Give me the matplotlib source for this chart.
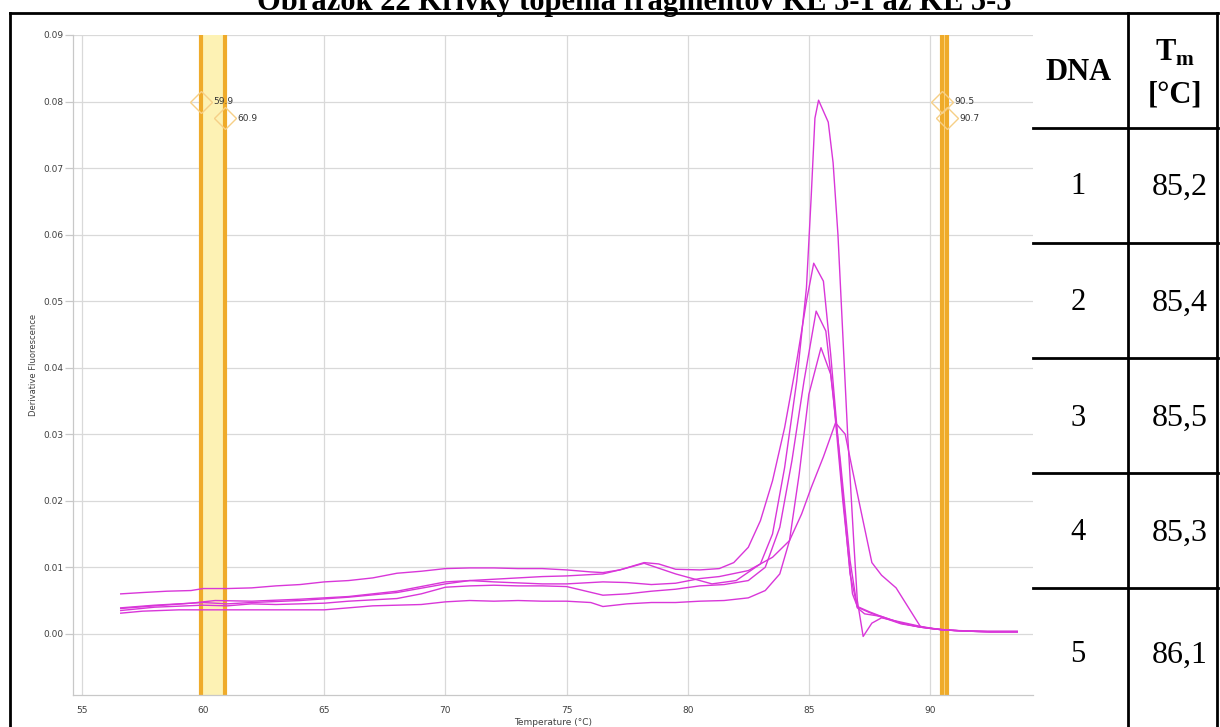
import matplotlib
matplotlib.use("Agg")
import matplotlib.pyplot as plt
from matplotlib.lines import Line2D

plt.rcParams['font.family'] = ['DejaVu Sans']
plt.rcParams['mathtext.fontset'] = 'custom'
plt.rcParams['mathtext.rm'] = 'Liberation Serif'
plt.rcParams['mathtext.bf'] = 'Liberation Serif:bold'

# melt curve samples: temperature (°C) and derivative fluorescence
temp_1 = [56.6, 57.5, 58.5, 59.5, 60.0, 61.0, 62.0, 63.0, 64.0, 65.0, 66.0, 67.0, 68.0, 69.0,
          70.0, 71.0, 72.0, 73.0, 74.0, 75.0, 76.0, 76.5, 77.2, 78.2, 78.8, 79.5, 80.5, 81.3,
          81.9, 82.5, 83.0, 83.5, 84.0, 84.5, 84.9, 85.2, 85.6, 85.9, 86.3, 86.7, 87.0, 87.5,
          88.0, 88.8, 89.6, 90.5, 91.5, 92.5, 93.6]
dfl_1 = [0.0060, 0.0062, 0.0064, 0.0065, 0.0068, 0.0068, 0.0069, 0.0072, 0.0074, 0.0078,
         0.0080, 0.0084, 0.0091, 0.0094, 0.0098, 0.0099, 0.0099, 0.0098, 0.0098, 0.0096,
         0.0093, 0.0092, 0.0096, 0.0107, 0.0105, 0.0097, 0.0096, 0.0098, 0.0107, 0.0130,
         0.0170, 0.0230, 0.0310, 0.0410, 0.0500, 0.0557, 0.0530, 0.0420, 0.0250, 0.0090,
         0.0040, 0.0032, 0.0025, 0.0015, 0.0010, 0.0006, 0.0004, 0.0003, 0.0003]

temp_2 = [56.6, 58.0, 59.5, 60.5, 62.0, 64.0, 66.0, 68.0, 70.0, 72.0, 74.0, 75.0, 76.5, 77.3,
          78.2, 79.5, 81.0, 82.0, 83.0, 83.5, 84.0, 84.5, 84.9, 85.1, 85.25, 85.4, 85.8, 86.0,
          86.2, 86.4, 86.6, 86.85, 87.0, 87.24, 87.6, 88.0, 89.0, 90.0, 91.0, 92.0, 93.6]
dfl_2 = [0.0038, 0.0042, 0.0046, 0.0050, 0.0049, 0.0052, 0.0056, 0.0064, 0.0078, 0.0082,
         0.0086, 0.0087, 0.0090, 0.0097, 0.0106, 0.0090, 0.0075, 0.0080, 0.0105, 0.0150,
         0.0250, 0.0380, 0.0520, 0.0660, 0.0775, 0.0802, 0.0769, 0.0708, 0.0600, 0.0450,
         0.0300, 0.0140, 0.0050, -0.0004, 0.0016, 0.0024, 0.0016, 0.0008, 0.0005, 0.0004,
         0.0004]

temp_3 = [56.6, 57.5, 59.0, 60.0, 61.0, 62.0, 63.0, 64.0, 65.0, 66.0, 67.0, 68.0, 69.0, 70.0,
          71.0, 72.0, 73.0, 74.0, 75.0, 76.0, 76.5, 77.5, 78.5, 79.5, 80.5, 81.5, 82.5, 83.2,
          83.8, 84.2, 84.6, 85.0, 85.5, 85.9, 86.3, 86.7, 87.0, 87.3, 88.0, 88.8, 89.6, 90.5,
          91.5, 92.5, 93.6]
dfl_3 = [0.0031, 0.0034, 0.0036, 0.0036, 0.0036, 0.0036, 0.0036, 0.0036, 0.0036, 0.0039,
         0.0042, 0.0043, 0.0044, 0.0048, 0.0050, 0.0049, 0.0050, 0.0049, 0.0049, 0.0047,
         0.0041, 0.0045, 0.0047, 0.0047, 0.0049, 0.0050, 0.0054, 0.0065, 0.0090, 0.0140,
         0.0240, 0.0360, 0.0430, 0.0390, 0.0260, 0.0110, 0.0039, 0.0030, 0.0026, 0.0016,
         0.0010, 0.0006, 0.0004, 0.0003, 0.0003]

temp_4 = [56.6, 58.0, 60.0, 61.0, 62.0, 63.0, 64.0, 65.0, 66.0, 67.0, 68.0, 69.0, 70.0, 71.0,
          72.0, 73.0, 74.0, 75.0, 76.5, 77.5, 78.5, 79.5, 80.5, 81.5, 82.5, 83.2, 83.8, 84.3,
          84.8, 85.3, 85.7, 86.0, 86.4, 86.8, 87.0, 87.5, 88.0, 88.8, 89.6, 90.5, 91.5, 92.5,
          93.6]
dfl_4 = [0.0035, 0.0040, 0.0043, 0.0042, 0.0045, 0.0044, 0.0045, 0.0046, 0.0049, 0.0051,
         0.0053, 0.0060, 0.0070, 0.0072, 0.0073, 0.0072, 0.0072, 0.0071, 0.0058, 0.0060,
         0.0064, 0.0067, 0.0072, 0.0074, 0.0080, 0.0100, 0.0160, 0.0260, 0.0380, 0.0485,
         0.0455, 0.0360, 0.0200, 0.0060, 0.0041, 0.0033, 0.0026, 0.0016, 0.0010, 0.0006,
         0.0004, 0.0003, 0.0003]

temp_5 = [56.6, 58.0, 60.0, 61.0, 62.0, 64.0, 66.0, 68.0, 70.0, 71.0, 72.0, 74.0, 75.0, 76.5,
          77.5, 78.5, 79.5, 80.5, 81.3, 82.5, 83.5, 84.2, 84.7, 85.1, 85.6, 86.1, 86.5, 86.8,
          87.2, 87.6, 88.0, 88.6, 89.6, 90.5, 91.5, 92.5, 93.6]
dfl_5 = [0.0039, 0.0043, 0.0047, 0.0045, 0.0047, 0.0050, 0.0055, 0.0062, 0.0075, 0.0080,
         0.0078, 0.0075, 0.0075, 0.0078, 0.0077, 0.0074, 0.0076, 0.0083, 0.0086, 0.0095,
         0.0115, 0.0140, 0.0180, 0.0220, 0.0266, 0.0317, 0.0300, 0.0246, 0.0176, 0.0107,
         0.0088, 0.0069, 0.0011, 0.0006, 0.0004, 0.0003, 0.0003]

curves = [(temp_1, dfl_1), (temp_2, dfl_2), (temp_3, dfl_3), (temp_4, dfl_4), (temp_5, dfl_5)]

# threshold bars with their marker readouts
left_bar = [59.9, 60.9]
right_bar = [90.5, 90.7]
marker_levels = [0.0800, 0.0775]

# side table
dna_ids = ['1', '2', '3', '4', '5']
tm_values = [85.2, 85.4, 85.5, 85.3, 86.1]

W, H = 1220, 727
fig = plt.figure(figsize=(W / 100, H / 100), dpi=100)
fig.patch.set_facecolor('white')


def fx(px):
    return px / W


def fy(py):
    return 1 - py / H


ax = fig.add_axes([fx(73), fy(695), fx(1033) - fx(73), fy(35) - fy(695)])
ax.set_xlim(54.63, 94.25)
ax.set_ylim(-0.0092, 0.09)

ax.set_xticks([55, 60, 65, 70, 75, 80, 85, 90])
ax.set_yticks([0.00, 0.01, 0.02, 0.03, 0.04, 0.05, 0.06, 0.07, 0.08, 0.09])
ax.yaxis.set_major_formatter(matplotlib.ticker.FormatStrFormatter('%.2f'))
ax.grid(True, color='#d9d9d9', linewidth=0.9)
ax.set_axisbelow(True)
for side in ['top', 'right']:
    ax.spines[side].set_visible(False)
for side in ['left', 'bottom']:
    ax.spines[side].set_color('#c8c8c8')
    ax.spines[side].set_linewidth(0.9)
ax.tick_params(axis='y', length=6, width=0.9, color='#c8c8c8', labelsize=6.5, labelcolor='#404040', pad=1)
ax.tick_params(axis='x', length=0, labelsize=6.5, labelcolor='#404040', pad=8)
ax.set_ylabel('Derivative Fluorescence', fontsize=6, color='#404040', labelpad=4)
ax.set_xlabel('Temperature (°C)', fontsize=6.5, color='#404040', labelpad=2)

# threshold bars
ax.axvspan(left_bar[0], left_bar[1], color='#fdf2b4', zorder=1)
ax.axvspan(right_bar[0], right_bar[1], color='#fbd98a', zorder=1)
for t in left_bar + right_bar:
    ax.axvline(t, color='#efab2a', linewidth=3.0, zorder=2)

for (t, d) in curves:
    ax.plot(t, d, color='#d936d9', linewidth=1.0, zorder=3)

for bar in [left_bar, right_bar]:
    for t, lvl in zip(bar, marker_levels):
        ax.plot(t, lvl, marker='D', markersize=11, markerfacecolor='none',
                markeredgecolor='#f6cf86', markeredgewidth=1.0, zorder=4)
        ax.annotate('%.1f' % t, (t, lvl), xytext=(9, 0), textcoords='offset points',
                    fontsize=6.5, color='#333333', va='center', ha='left', zorder=5)

# title, cut by the top edge
fig.text(fx(634), fy(10), 'Obrázok 22 Krivky topenia fragmentov KE 5-1 až KE 5-5',
         ha='center', va='baseline', fontsize=22, fontweight='bold', family='Liberation Serif')

# frame and table lines
lw = 2.0
frame = [
    ((10, 10), (13, H)),
    ((10, 1218), (13, 13)),
    ((1217, 1217), (13, H)),
    ((1128, 1128), (13, H)),
]
for py in [128, 243, 358, 473, 588]:
    frame.append(((1033, 1218), (py, py)))
for xs, ys in frame:
    fig.add_artist(Line2D([fx(x) for x in xs], [fy(y) for y in ys], color='black',
                          linewidth=lw, transform=fig.transFigure))

fig.text(fx(1078), fy(73), 'DNA', ha='center', va='center', fontsize=22,
         fontweight='bold', family='Liberation Serif')
fig.text(fx(1175), fy(53), r'$\mathbf{T}_{\mathbf{m}}$', ha='center', va='center', fontsize=22)
fig.text(fx(1175), fy(95), '[°C]', ha='center', va='center', fontsize=22,
         fontweight='bold', family='Liberation Serif')

row_centers = [187, 303, 418, 533, 655]
for dna, tm, py in zip(dna_ids, tm_values, row_centers):
    fig.text(fx(1078), fy(py), dna, ha='center', va='center', fontsize=22, family='Liberation Serif')
    fig.text(fx(1180), fy(py), ('%.1f' % tm).replace('.', ','), ha='center', va='center',
             fontsize=23, family='Liberation Serif')

fig.savefig('out.png', dpi=100)
